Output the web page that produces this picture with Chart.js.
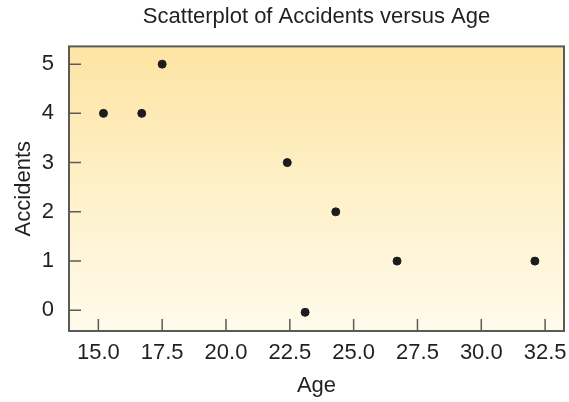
<!DOCTYPE html>
<html>
<head>
<meta charset="utf-8">
<script src="https://cdn.jsdelivr.net/npm/chart.js@4"></script>
<style>
  html, body { margin: 0; padding: 0; background: #fff; }
  #wrap { width: 569px; height: 402px; }
</style>
</head>
<body>
<div id="wrap"><canvas id="scatterChart" width="569" height="402"></canvas></div>
<script>
// Data
const ages = [15.2, 16.7, 17.5, 22.4, 23.1, 24.3, 26.7, 32.1];
const accidents = [4, 4, 5, 3, -0.04, 2, 1, 1];
const xTicks = [15.0, 17.5, 20.0, 22.5, 25.0, 27.5, 30.0, 32.5];
const yTicks = [0, 1, 2, 3, 4, 5];

const FONT = "'Liberation Sans Narrow', 'Liberation Sans', Arial, sans-serif";
const INK = '#231f20';
const FRAME = '#5a5a5a';

// gradient panel, frame and inward tick marks
const panel = {
    id: 'panel',
    beforeDatasetsDraw(chart) {
        const { ctx, chartArea: a } = chart;
        const g = ctx.createLinearGradient(0, a.top, 0, a.bottom);
        g.addColorStop(0, '#fee4a3');
        g.addColorStop(0.5, '#fef0c8');
        g.addColorStop(1, '#fffbeb');
        ctx.save();
        ctx.fillStyle = g;
        ctx.fillRect(a.left, a.top, a.right - a.left, a.bottom - a.top);
        ctx.strokeStyle = FRAME;
        ctx.lineWidth = 1.5;
        ctx.beginPath();
        chart.scales.x.ticks.forEach(t => {
            const px = chart.scales.x.getPixelForValue(t.value);
            ctx.moveTo(px, a.bottom);
            ctx.lineTo(px, a.bottom - 12);
        });
        chart.scales.y.ticks.forEach(t => {
            const py = chart.scales.y.getPixelForValue(t.value);
            ctx.moveTo(a.left, py);
            ctx.lineTo(a.left + 12, py);
        });
        ctx.stroke();
        ctx.lineWidth = 2;
        ctx.strokeRect(a.left, a.top, a.right - a.left, a.bottom - a.top);
        ctx.restore();
    }
};

const ctx = document.getElementById('scatterChart').getContext('2d');
new Chart(ctx, {
    type: 'scatter',
    data: {
        datasets: [{
            label: 'Accidents',
            data: ages.map((a, i) => ({ x: a, y: accidents[i] })),
            backgroundColor: '#1c1b20',
            borderColor: '#1c1b20',
            pointRadius: 4,
            pointHoverRadius: 4
        }]
    },
    options: {
        responsive: false,
        animation: false,
        layout: { padding: { left: 0, right: 3, top: 0, bottom: 0 } },
        plugins: {
            legend: { display: false },
            tooltip: { enabled: false },
            title: {
                display: true,
                fullSize: false,
                text: 'Scatterplot of Accidents versus Age',
                color: INK,
                font: { family: FONT, size: 22, weight: 'normal' },
                padding: { top: 4, bottom: 16 }
            }
        },
        scales: {
            x: {
                type: 'linear',
                min: 13.85,
                max: 33.24,
                afterBuildTicks: s => { s.ticks = xTicks.map(v => ({ value: v })); },
                afterFit: s => { s.height = 71; s.paddingLeft = 0; s.paddingRight = 0; },
                grid: { display: false, drawTicks: false },
                border: { display: false },
                ticks: {
                    autoSkip: false,
                    maxRotation: 0,
                    padding: 9,
                    color: INK,
                    font: { family: FONT, size: 22 },
                    callback: v => v.toFixed(1)
                },
                title: {
                    display: true,
                    text: 'Age',
                    color: INK,
                    font: { family: FONT, size: 22 },
                    padding: { top: 0, bottom: 3 }
                }
            },
            y: {
                type: 'linear',
                min: -0.42,
                max: 5.36,
                afterBuildTicks: s => { s.ticks = yTicks.map(v => ({ value: v })); },
                afterFit: s => { s.width = 69; s.paddingTop = 0; s.paddingBottom = 0; },
                grid: { display: false, drawTicks: false },
                border: { display: false },
                ticks: {
                    padding: 15,
                    color: INK,
                    font: { family: FONT, size: 22 }
                },
                title: {
                    display: true,
                    text: 'Accidents',
                    color: INK,
                    font: { family: FONT, size: 22 },
                    padding: { top: 11, bottom: 0 }
                }
            }
        }
    },
    plugins: [panel]
});
</script>
</body>
</html>
